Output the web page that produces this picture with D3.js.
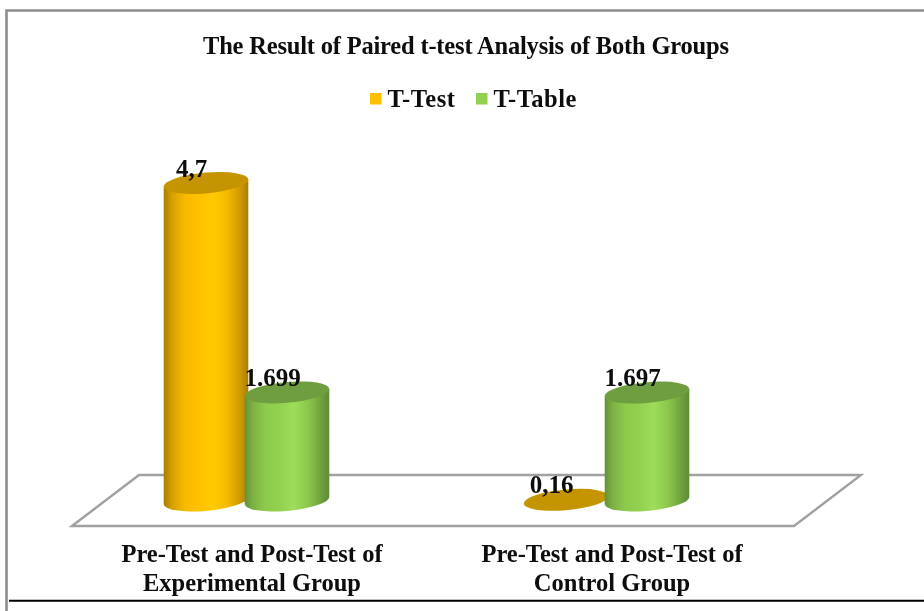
<!DOCTYPE html>
<html>
<head>
<meta charset="utf-8">
<script src="https://cdn.jsdelivr.net/npm/d3@7/dist/d3.min.js"></script>
<style>
html,body{margin:0;padding:0;background:#fff;overflow:hidden}
svg{display:block}
text{font-family:"Liberation Serif",serif;font-weight:bold;fill:#0a0a0a}
</style>
</head>
<body>
<svg id="chart" width="924" height="611"></svg>
<script>
const title = "The Result of Paired t-test Analysis of Both Groups";
const categories = ["Pre-Test and Post-Test of|Experimental Group", "Pre-Test and Post-Test of|Control Group"];
const seriesNames = ["T-Test", "T-Table"];
const tTestValues = [4.7, 0.16];
const tTableValues = [1.699, 1.697];
const tTestLabels = ["4,7", "0,16"];
const tTableLabels = ["1.699", "1.697"];
const seriesColors = ["#ffc000", "#92d050"];

const svg = d3.select("#chart");
const defs = svg.append("defs");
defs.append("filter").attr("id", "soft").attr("x", "-5%").attr("y", "-5%").attr("width", "110%").attr("height", "110%")
  .append("feGaussianBlur").attr("stdDeviation", 0.55);
const root = svg.append("g").attr("filter", "url(#soft)");
root.append("rect").attr("width", 924).attr("height", 611).attr("fill", "#fff");

const x0 = d3.scaleBand().domain(categories).range([66.5, 786.5]);
const x1 = d3.scaleBand().domain(seriesNames).range([x0.bandwidth()/2 - 81, x0.bandwidth()/2 + 81]);
const y = d3.scaleLinear().domain([0, 4.7]).range([511, 183]);
const baseY = 500.5, rx = 42.3, ry = 10.4, tilt = -4.8;

function gradient(id, stops) {
  const g = defs.append("linearGradient").attr("id", id).attr("x1", 0).attr("x2", 1).attr("y1", 0).attr("y2", 0);
  stops.forEach(s => g.append("stop").attr("offset", s[0]).attr("stop-color", s[1]));
}
gradient("gradOrange", [[0,"#a87e00"],[0.1,"#d6a100"],[0.25,"#f8ba00"],[0.4,"#ffc000"],[0.58,"#ffcb05"],[0.75,"#f5b900"],[0.9,"#cf9c00"],[1,"#a87e00"]]);
gradient("gradGreen", [[0,"#64913a"],[0.1,"#7eb244"],[0.25,"#8ecb4d"],[0.4,"#92d050"],[0.58,"#9ddd5a"],[0.75,"#8cc74c"],[0.9,"#70a23e"],[1,"#5e8a35"]]);
const topColors = ["#c49500", "#6e9e3f"];

// frame
root.append("path").attr("d", "M6.5,611V10.5H924").attr("fill", "none").attr("stroke", "#8c8c8c").attr("stroke-width", 2.6);
root.append("line").attr("x1", 9).attr("x2", 924).attr("y1", 600.7).attr("y2", 600.7).attr("stroke", "#000").attr("stroke-width", 2);

// floor
root.append("path").attr("d", "M72,526L139,475H861L794,526Z").attr("fill", "#fff").attr("stroke", "#a0a0a0").attr("stroke-width", 2.4);

// title
root.append("text").attr("x", 466).attr("y", 54).attr("text-anchor", "middle").attr("font-size", 24.5).attr("textLength", 526).text(title);

// legend
const legendX = [370, 476];
seriesNames.forEach((s, i) => {
  root.append("rect").attr("x", legendX[i]).attr("y", 93).attr("width", 11.5).attr("height", 11.5).attr("fill", seriesColors[i]);
  root.append("text").attr("x", legendX[i] + 17.5).attr("y", 106.5).attr("font-size", 24.5).attr("letter-spacing", 0.5).text(s);
});

// cylinders, series by series, drawn left to right in each group
categories.forEach((c, ci) => {
  const rows = [
    {s: seriesNames[0], v: tTestValues[ci], l: tTestLabels[ci], grad: "gradOrange", top: topColors[0]},
    {s: seriesNames[1], v: tTableValues[ci], l: tTableLabels[ci], grad: "gradGreen", top: topColors[1]}
  ];
  rows.forEach(r => {
    const cx = x0(c) + x1(r.s) + x1.bandwidth()/2;
    const yt = y(r.v);
    const g = root.append("g").attr("transform", `translate(${cx},0) skewY(${tilt})`);
    if (yt < baseY - 2) {
      g.append("path")
        .attr("d", `M${-rx},${yt}L${-rx},${baseY}A${rx},${ry} 0 0 0 ${rx},${baseY}L${rx},${yt}Z`)
        .attr("fill", `url(#${r.grad})`);
    }
    g.append("ellipse").attr("cy", yt).attr("rx", rx).attr("ry", ry).attr("fill", r.top);
    r.cx = cx; r.yt = yt;
  });
  rows.forEach(r => {
    root.append("text").attr("x", r.cx - 14.5).attr("y", r.yt - 6.5).attr("text-anchor", "middle")
      .attr("font-size", 25).text(r.l);
  });
});

// category labels
categories.forEach(c => {
  const cx = x0(c) + x0.bandwidth()/2 + 5.5;
  c.split("|").forEach((line, i) => {
    root.append("text").attr("x", cx).attr("y", 561.5 + i * 29).attr("text-anchor", "middle").attr("font-size", 24.5).text(line);
  });
});
</script>
</body>
</html>
